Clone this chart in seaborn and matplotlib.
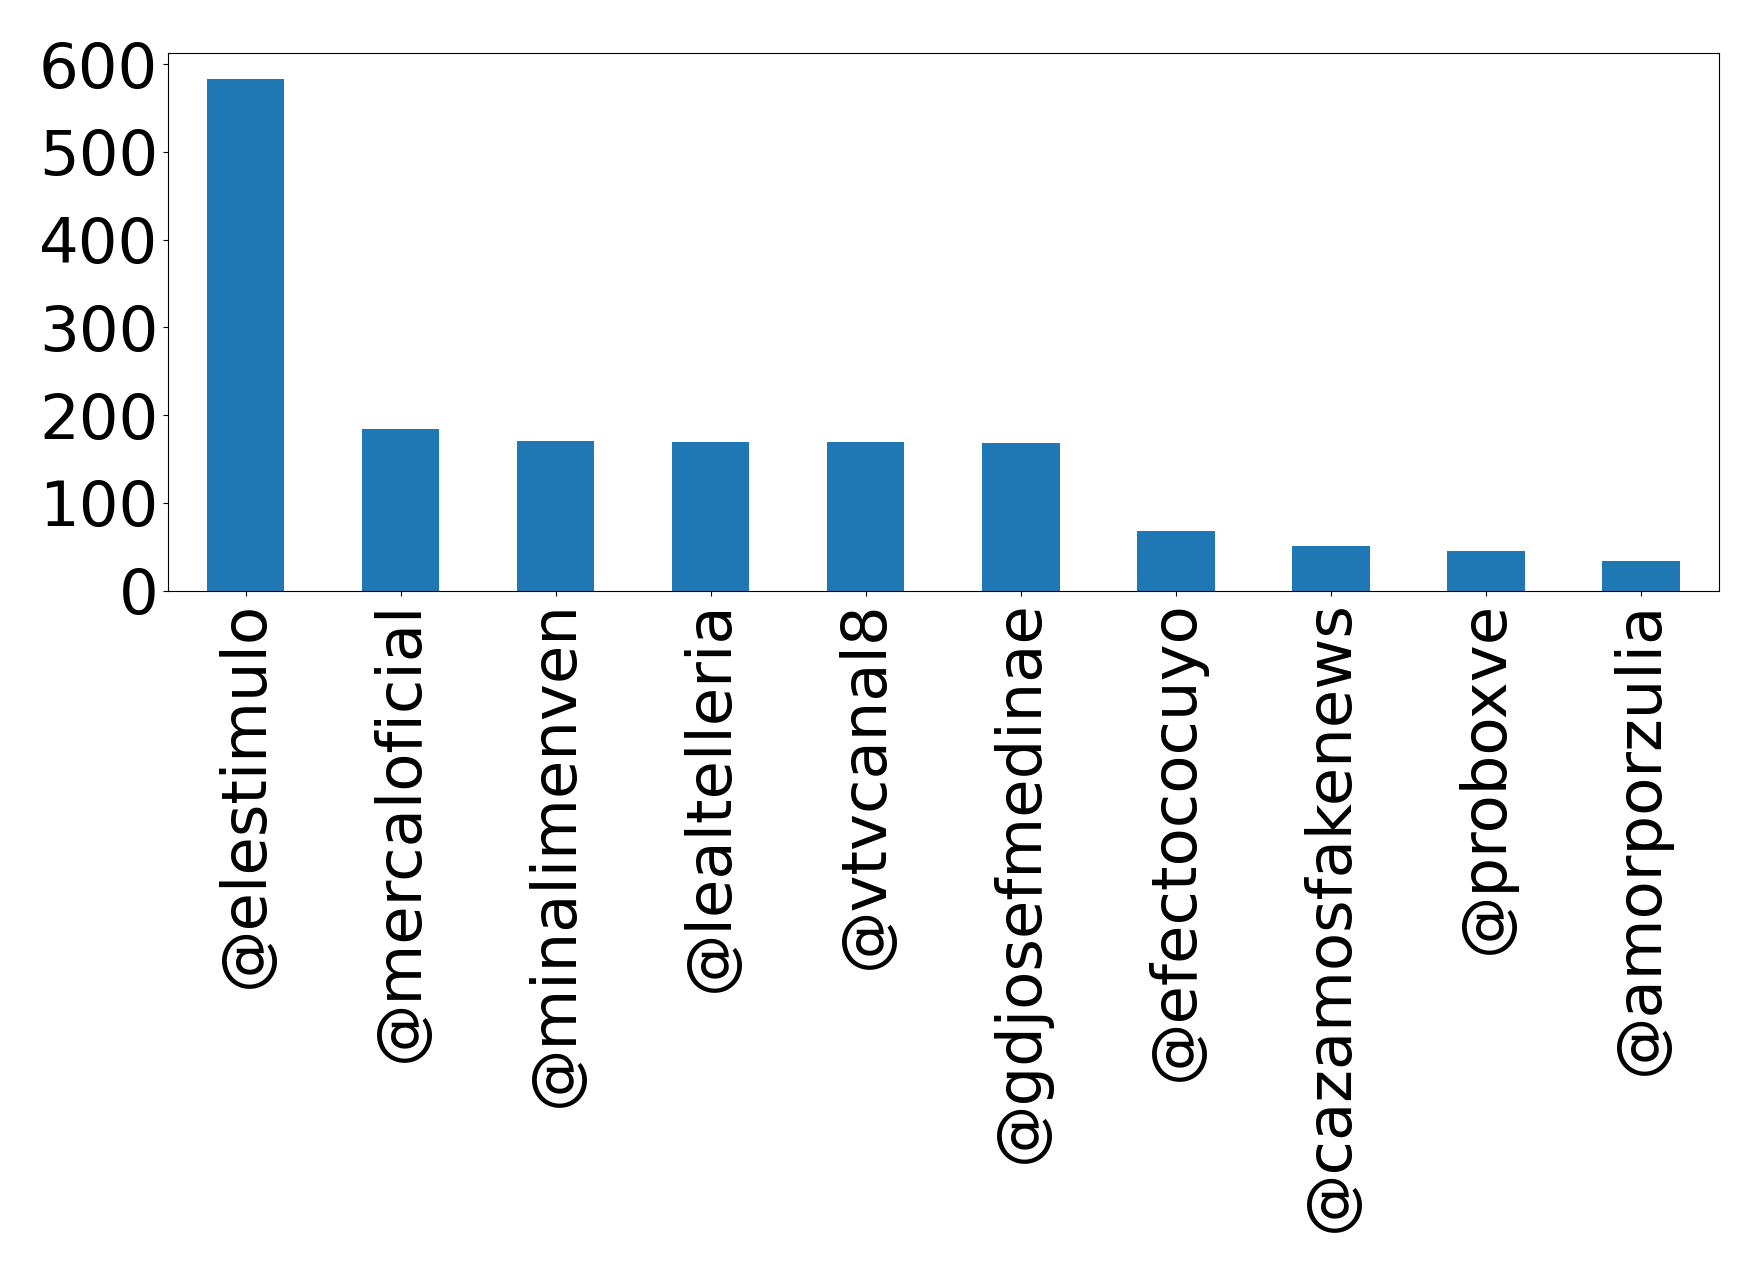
import matplotlib
matplotlib.use("Agg")
import matplotlib.pyplot as plt
import seaborn as sns
import pandas as pd

accounts = ["@elestimulo", "@mercaloficial", "@minalimenven", "@lealtelleria",
            "@vtvcanal8", "@gdjosefmedinae", "@efectococuyo", "@cazamosfakenews",
            "@proboxve", "@amorporzulia"]
counts = [583, 184, 171, 169, 169, 168, 68, 51, 45, 34]

df = pd.DataFrame({"account": accounts, "count": counts})

plt.rcParams['font.family'] = ['DejaVu Sans']
fig = plt.figure(figsize=(17.59, 12.73), dpi=100)
ax = fig.add_axes([0.0955, 0.536, 0.8815, 0.422])
sns.barplot(data=df, x="account", y="count", color="#1f77b4", saturation=1,
            width=0.5, ax=ax)
ax.set_xlabel("")
ax.set_ylabel("")
ax.set_yticks([0, 100, 200, 300, 400, 500, 600])
ax.tick_params(axis='both', labelsize=45)
ax.tick_params(axis='x', labelrotation=90)
ax.set_xlim(-0.5, len(accounts) - 0.5)
fig.savefig("out.png", dpi=100)
